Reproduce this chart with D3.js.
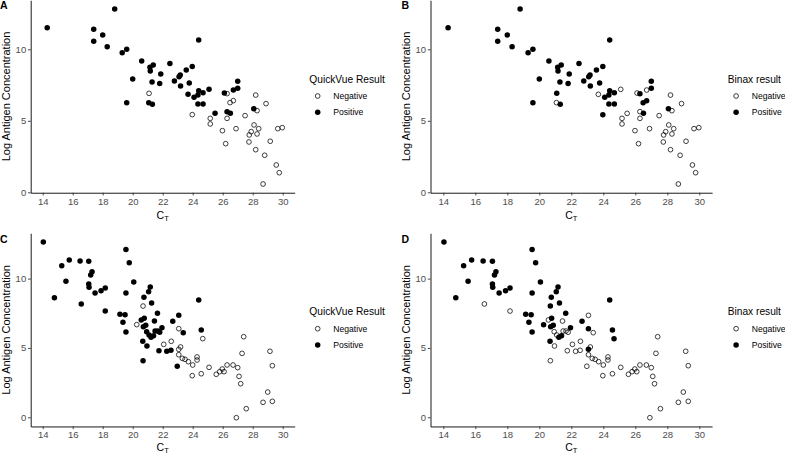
<!DOCTYPE html>
<html><head><meta charset="utf-8">
<script src="https://cdn.jsdelivr.net/npm/d3@7"></script>
<style>body{margin:0;background:#fff}svg{display:block}</style>
</head><body><svg id="c" width="785" height="454"></svg>
<script>
// Top row (A, B) data
const ctAB = [14.3,18.8,17.4,17.4,18.0,18.3,19.3,19.6,20.6,20.0,19.6,21.15,21.17,21.37,21.09,21.07,21.31,21.29,21.8,21.87,22.48,22.78,23.09,23.17,23.19,23.57,23.97,23.77,23.69,24.09,23.97,24.4,24.4,24.69,24.35,24.35,24.69,25.09,25.49,25.17,25.17,26.11,26.29,26.49,26.71,26.71,27.0,27.0,26.29,26.51,26.29,25.98,26.2,26.89,27.49,28.2,28.07,28.29,28.89,28.09,28.4,27.9,27.77,28.29,27.75,29.17,28.2,28.8,29.57,29.77,29.67,29.97,28.69];
const agAB = [11.5,12.82,11.4,10.56,11.0,10.18,9.76,10.0,9.18,7.92,6.27,8.74,8.48,8.9,6.92,6.27,6.15,7.71,7.6,8.27,9.0,7.78,8.08,8.2,7.43,8.55,8.8,7.64,6.85,6.65,5.43,10.65,7.1,6.97,6.8,6.17,6.17,7.2,5.52,5.17,4.78,6.94,6.9,6.27,6.41,7.15,7.27,7.76,5.64,5.52,5.17,4.31,3.4,4.45,5.36,6.8,5.85,5.71,6.2,4.71,4.45,4.24,4.01,4.08,3.52,3.57,2.98,2.59,1.91,1.37,4.45,4.52,0.58];
const quickvueAB = "PPPPPPPPPPPPPPNPPPPPPPPPPPPPPPNPPPPPPPPNNPNNNPPPPPNNNNNNPNNNNNNNNNNNNNNNN".split("");
const binaxAB    = "PPPPPPPPPPPPPPPNPPPPPPPPPPPPNPPPPPPPPNNNNNPPPNPPNPNNNNNNPNNNNNNNNNNNNNNNN".split("");

// Bottom row (C, D) data
const ctCD = [14.04,14.78,15.27,15.55,15.77,16.49,16.57,17.07,17.2,17.29,17.07,17.09,17.49,17.89,18.17,18.17,19.15,19.49,19.35,19.55,19.55,19.77,19.55,20.07,20.27,20.69,20.75,21.06,21.17,21.26,20.57,20.77,20.71,20.87,20.93,20.67,20.95,20.69,21.09,21.22,21.39,21.49,21.67,21.8,21.95,21.45,21.65,21.75,22.07,22.27,22.57,22.55,22.67,23.07,23.07,23.37,23.19,23.07,23.07,23.31,23.49,23.71,22.97,23.97,24.0,24.29,24.29,24.4,24.57,24.67,24.57,25.09,25.57,25.8,25.97,26.09,26.29,26.69,27.0,27.09,27.2,27.4,27.29,26.91,27.57,28.69,29.0,29.31,29.15,29.31];
const agCD = [12.64,8.62,10.93,9.8,11.34,11.27,8.17,11.25,10.26,10.5,9.61,9.37,8.96,9.13,9.32,7.66,7.43,7.4,6.85,6.15,12.09,11.15,8.96,9.75,6.68,8.02,8.65,9.06,9.39,8.24,7.02,7.14,6.53,6.63,6.17,5.48,5.14,4.08,5.93,5.77,5.88,6.22,6.22,6.13,6.46,6.94,7.5,4.8,5.26,4.76,5.48,4.83,6.92,7.35,6.39,6.1,5.07,4.9,4.51,4.25,4.18,4.01,3.68,3.0,3.77,4.35,4.13,8.46,6.29,5.67,3.14,3.6,3.1,3.29,3.48,3.29,3.77,3.77,3.58,2.95,2.42,5.81,4.61,-0.03,0.62,1.08,1.82,1.15,4.76,3.72];
const quickvueCD = "PPPPPPPPPPPPPPPPPPPPPPPPNNPPPPPPPPPPPPPPPPPPPPPPNPNPPPNPNNNNNNPNNNNPPNNNNNNNNNNNNNNNNNNNNN".split("");
const binaxCD    = "PPPPPPNPPPPPPPPNPPPPPPPPPPPPPPNPPPNPNNNPPNNNPNPNNNNNPNPNNPNNNNNNNNNPPPNNNNNNNNNNNNNNNNNNNN".split("");

const xTicks = [14,16,18,20,22,24,26,28,30];
const yTicks = [0,5,10];
const legendKeys = ["N","P"];
const legendLabels = ["Negative","Positive"];

const FONT = "'Liberation Sans', Arial, Helvetica, sans-serif";
const svg = d3.select("#c");

const panels = [
  {label:"A", ct:ctAB, ag:agAB, res:quickvueAB, title:"QuickVue Result",
   xr:[30.7,294.7], yd:[-0.03,13.43], yr:[192.73,0.25], lab:[0,9.3], ytx:10, xtb:219, leg:[309.3,82.5]},
  {label:"B", ct:ctAB, ag:agAB, res:binaxAB, title:"Binax result",
   xr:[430.5,712.1], yd:[-0.03,13.43], yr:[192.73,0.25], lab:[401.5,9.3], ytx:409.8, xtb:219, leg:[727.7,82.5]},
  {label:"C", ct:ctCD, ag:agCD, res:quickvueCD, title:"QuickVue Result",
   xr:[30.7,294.7], yd:[-0.66,13.27], yr:[426.45,233.24], lab:[0,243.3], ytx:10, xtb:450.5, leg:[309.3,315.2]},
  {label:"D", ct:ctCD, ag:agCD, res:binaxCD, title:"Binax result",
   xr:[430.5,712.1], yd:[-0.66,13.27], yr:[426.45,233.24], lab:[401.5,243.3], ytx:409.8, xtb:450.5, leg:[727.7,315.2]}
];

panels.forEach(p => {
  const x = d3.scaleLinear().domain([13.2,30.8]).range(p.xr);
  const y = d3.scaleLinear().domain(p.yd).range(p.yr);
  const g = svg.append("g");

  // axes
  const xa = g.append("g").attr("transform",`translate(0,${p.yr[0]})`)
    .call(d3.axisBottom(x).tickValues(xTicks).tickSize(2.7).tickSizeOuter(0).tickPadding(2.5));
  const ya = g.append("g").attr("transform",`translate(${p.xr[0]},0)`)
    .call(d3.axisLeft(y).tickValues(yTicks).tickSize(2.7).tickSizeOuter(0).tickPadding(1.8));
  [xa,ya].forEach(a => {
    a.select(".domain").attr("stroke","#000").attr("stroke-width",0.9);
    a.selectAll(".tick line").attr("stroke","#333").attr("stroke-width",0.9);
    a.selectAll(".tick text").attr("fill","#4d4d4d").attr("font-family",FONT).attr("font-size",9.5);
  });

  // points
  const idx = d3.range(p.ct.length);
  g.append("g").selectAll("circle").data(idx).join("circle")
    .attr("cx", i => x(p.ct[i]))
    .attr("cy", i => y(p.ag[i]))
    .attr("r", i => p.res[i]==="P" ? 2.75 : 2.35)
    .attr("fill", i => p.res[i]==="P" ? "#000" : "none")
    .attr("stroke", "#000")
    .attr("stroke-width", i => p.res[i]==="P" ? 0 : 0.75);

  // axis titles
  const ymid = (p.yr[0]+p.yr[1])/2;
  g.append("text").attr("transform",`translate(${p.ytx},${ymid}) rotate(-90)`)
    .attr("text-anchor","middle").attr("font-family",FONT).attr("font-size",11).attr("fill","#000")
    .text("Log Antigen Concentration");
  const xt = g.append("text").attr("x",(p.xr[0]+p.xr[1])/2).attr("y",p.xtb)
    .attr("text-anchor","middle").attr("font-family",FONT).attr("font-size",10.5).attr("fill","#000");
  xt.append("tspan").text("C");
  xt.append("tspan").attr("font-size",7.5).attr("dy",2).text("T");

  // panel label
  g.append("text").attr("x",p.lab[0]).attr("y",p.lab[1]).attr("font-family",FONT)
    .attr("font-weight","bold").attr("font-size",10.5).attr("fill","#000").text(p.label);

  // legend
  const lg = g.append("g").attr("transform",`translate(${p.leg[0]},${p.leg[1]})`);
  lg.append("text").attr("x",0).attr("y",0).attr("font-family",FONT).attr("font-size",10.2)
    .attr("fill","#000").text(p.title);
  legendKeys.forEach((k,j) => {
    const cy = 13.5 + j*16.3;
    lg.append("circle").attr("cx",8.4).attr("cy",cy)
      .attr("r", k==="P" ? 2.75 : 2.35)
      .attr("fill", k==="P" ? "#000" : "none")
      .attr("stroke","#000").attr("stroke-width", k==="P" ? 0 : 0.75);
    lg.append("text").attr("x",24).attr("y",cy+3).attr("font-family",FONT).attr("font-size",8.6)
      .attr("fill","#000").text(legendLabels[j]);
  });
});
</script></body></html>
